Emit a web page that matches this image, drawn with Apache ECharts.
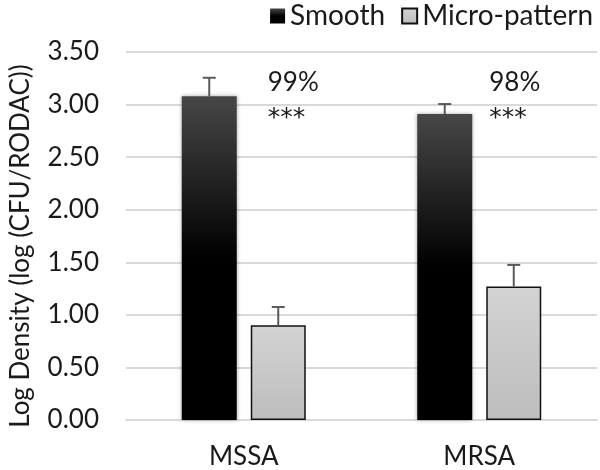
<!DOCTYPE html>
<html>
<head>
<meta charset="utf-8">
<script src="https://cdn.jsdelivr.net/npm/echarts@6/dist/echarts.min.js"></script>
<style>html,body{margin:0;padding:0;background:#fff}#c{width:600px;height:470px}</style>
</head>
<body>
<div id="c"></div>
<script>
const categories = ['MSSA', 'MRSA'];
const seriesNames = ['Smooth', 'Micro-pattern'];
const smoothValues = [3.08, 2.91];
const smoothErrors = [0.175, 0.095];
const microValues = [0.90, 1.27];
const microErrors = [0.175, 0.205];
const reductionLabels = ['99%', '98%'];
const significanceLabels = ['***', '***'];
const yTicks = { min: 0, max: 3.5, interval: 0.5 };

const FONT = 'Lato';
const TEXT = '#1a1a1a';
const BAR_W = 55;
const GAP = 14;
const ANNOT_Y = 3.007;
const annotOffsets = [[24, 0], [10, 0]];

function errorSeries(values, errors, sign) {
  return {
    type: 'custom',
    silent: true,
    z: 5,
    data: values.map((v, i) => [i, v, errors[i]]),
    renderItem: function (params, api) {
      const xo = sign * (BAR_W + GAP) / 2;
      const base = api.coord([api.value(0), api.value(1)]);
      const top = api.coord([api.value(0), api.value(1) + api.value(2)]);
      const x = base[0] + xo;
      const style = { stroke: '#5a5a5a', lineWidth: 2 };
      return {
        type: 'group',
        children: [
          { type: 'line', shape: { x1: x, y1: base[1], x2: x, y2: top[1] }, style: style },
          { type: 'line', shape: { x1: x - 6.5, y1: top[1], x2: x + 6.5, y2: top[1] }, style: style }
        ]
      };
    }
  };
}

const chart = echarts.init(document.getElementById('c'), null, { renderer: 'canvas' });
chart.setOption({
  animation: false,
  textStyle: { fontFamily: FONT },
  grid: { left: 118, right: 3, top: 52, bottom: 49, containLabel: false },
  legend: {
    data: seriesNames,
    right: 2, top: -3,
    itemWidth: 15, itemHeight: 15, itemGap: 16,
    textStyle: { fontFamily: FONT, fontSize: 28, color: TEXT },
    icon: 'rect'
  },
  xAxis: {
    type: 'category',
    data: categories,
    axisTick: { show: false },
    axisLine: { lineStyle: { color: '#d9d9d9', width: 2 } },
    axisLabel: { fontFamily: FONT, fontSize: 26, color: TEXT, margin: 24 }
  },
  yAxis: {
    type: 'value',
    min: yTicks.min, max: yTicks.max, interval: yTicks.interval,
    name: 'Log Density (log (CFU/RODAC))',
    nameLocation: 'middle',
    nameGap: 92,
    nameTextStyle: { fontFamily: FONT, fontSize: 26, color: TEXT, padding: [0, 20, 0, 0] },
    axisLine: { show: false },
    axisTick: { show: false },
    splitLine: { lineStyle: { color: '#d9d9d9', width: 2 } },
    axisLabel: { fontFamily: FONT, fontSize: 26, color: TEXT, margin: 27, formatter: v => v.toFixed(2) }
  },
  series: [
    {
      name: seriesNames[0],
      type: 'bar',
      data: smoothValues,
      barWidth: BAR_W,
      barGap: (GAP / BAR_W * 100) + '%',
      itemStyle: {
        color: new echarts.graphic.LinearGradient(0, 0, 0, 1, [
          { offset: 0, color: '#474747' },
          { offset: 0.5, color: '#000000' },
          { offset: 1, color: '#000000' }
        ]),
        shadowBlur: 4, shadowColor: 'rgba(0,0,0,0.35)'
      }
    },
    {
      name: seriesNames[1],
      type: 'bar',
      data: microValues,
      barWidth: BAR_W,
      itemStyle: {
        color: new echarts.graphic.LinearGradient(0, 0, 0, 1, [
          { offset: 0, color: '#d3d3d3' },
          { offset: 1, color: '#bdbdbd' }
        ]),
        borderColor: '#111', borderWidth: 1.5
      }
    },
    errorSeries(smoothValues, smoothErrors, -1),
    errorSeries(microValues, microErrors, 1),
    {
      type: 'scatter',
      silent: true,
      symbolSize: 0,
      z: 6,
      itemStyle: { color: TEXT, opacity: 1 },
      data: categories.map((c, i) => ({
        value: [i, ANNOT_Y],
        label: { offset: annotOffsets[i] }
      })),
      label: {
        show: true,
        position: 'right',
        distance: 0,
        align: 'left',
        verticalAlign: 'middle',
        color: TEXT,
        textBorderWidth: 0,
        formatter: p => '{p|' + reductionLabels[p.dataIndex] + '}\n{s|' + significanceLabels[p.dataIndex] + '}',
        rich: {
          p: { fontFamily: FONT, fontSize: 26, color: TEXT, lineHeight: 30 },
          s: { fontFamily: 'DejaVu Sans', fontSize: 25, color: TEXT, lineHeight: 43 }
        }
      }
    }
  ]
});
</script>
</body>
</html>
